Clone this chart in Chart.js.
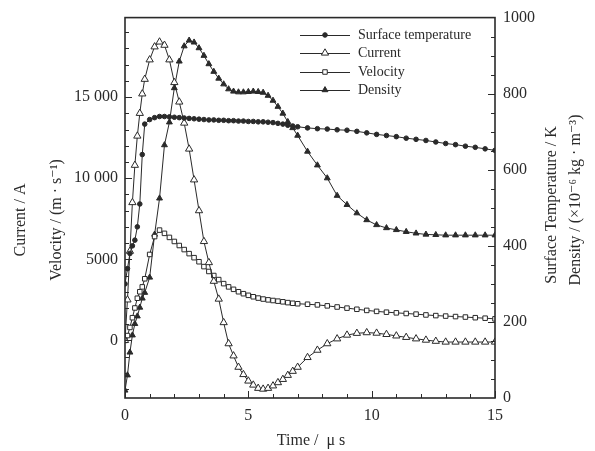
<!DOCTYPE html>
<html>
<head>
<meta charset="utf-8">
<script src="https://cdn.jsdelivr.net/npm/chart.js@4.4.1/dist/chart.umd.min.js"></script>
<style>
  html, body { margin: 0; padding: 0; background: #fff; }
  #wrap { width: 595px; height: 451px; position: relative; }
</style>
</head>
<body>
<div id="wrap"><canvas id="plasma"></canvas></div>
<script>
// Time axis (μs) shared by all four series
const timeUs = [0, 0.1, 0.2, 0.3, 0.4, 0.5, 0.6, 0.7, 0.8, 1.0, 1.2, 1.4, 1.6, 1.8, 2.0, 2.2, 2.4, 2.6, 2.8, 3.0,
    3.2, 3.4, 3.6, 3.8, 4.0, 4.2, 4.4, 4.6, 4.8, 5.0, 5.2, 5.4, 5.6, 5.8, 6.0, 6.2, 6.4, 6.6, 6.8, 7.0,
    7.4, 7.8, 8.2, 8.6, 9.0, 9.4, 9.8, 10.2, 10.6, 11.0, 11.4, 11.8, 12.2, 12.6, 13.0, 13.4, 13.8, 14.2, 14.6, 15.0];

// Surface temperature / K (right axis)
const surfaceTemp = [300, 340, 380, 400, 415, 450, 510, 640, 720, 732, 737, 740, 740, 739, 738, 737, 736, 735, 734, 733,
    732, 731, 731, 730, 730, 729, 729, 728, 728, 727, 727, 726, 726, 725, 724, 722, 720, 717, 715, 713,
    710, 708, 707, 705, 704, 701, 697, 693, 690, 687, 683, 680, 677, 673, 669, 666, 662, 659, 655, 651];

// Current / A (left axis)
const current = [0, 2500, 5500, 8500, 10800, 12600, 14000, 15200, 16100, 17300, 18100, 18400, 18200, 17300, 15900, 14700, 13400, 11800, 9900, 8000,
    6100, 4800, 3650, 2550, 1100, -200, -950, -1650, -2100, -2500, -2750, -2950, -3000, -2950, -2800, -2600, -2400, -2150, -1900, -1650,
    -1050, -600, -200, 100, 330, 440, 480, 450, 370, 280, 190, 100, 20, -50, -100, -100, -100, -100, -100, -100];

// Velocity / (m·s⁻¹) (left axis)
const velocity = [0, 300, 800, 1400, 2000, 2600, 3000, 3300, 3800, 5300, 6400, 6800, 6600, 6350, 6100, 5850, 5600, 5350, 5100, 4850,
    4550, 4250, 4000, 3750, 3500, 3300, 3150, 3000, 2880, 2780, 2690, 2610, 2550, 2500, 2460, 2420, 2380, 2330, 2290, 2260,
    2230, 2190, 2130, 2060, 1990, 1920, 1850, 1790, 1740, 1700, 1660, 1620, 1570, 1530, 1500, 1470, 1440, 1400, 1370, 1330];

// Density / (×10⁻⁶ kg·m⁻³) (right axis)
const density = [20, 60, 120, 165, 195, 215, 238, 262, 277, 317, 430, 525, 665, 725, 815, 885, 925, 940, 935, 920,
    900, 878, 858, 840, 825, 812, 806, 804, 804, 805, 806, 805, 803, 795, 782, 766, 748, 726, 710, 690,
    648, 612, 578, 532, 508, 486, 468, 455, 447, 442, 437, 433, 430, 429, 428, 428, 428, 428, 428, 428];

// Tick labels
const timeTicks = [0, 5, 10, 15];
const leftTicks = [0, 5000, 10000, 15000];
const rightTicks = [0, 200, 400, 600, 800, 1000];

const ink = "#2a2a2a";
const serif = "'Liberation Serif', 'DejaVu Serif', serif";

/**
 * Pairs the shared time array with one series.
 */
function to_points(values) {
    return timeUs.map(function (t, i) {
        return { x: t, y: values[i] };
    });
}

/**
 * Formats numbers the way the figure does: "15 000" but "5000".
 */
function format_value(v) {
    if (Math.abs(v) >= 10000) {
        let s = String(v);
        return s.slice(0, s.length - 3) + " " + s.slice(s.length - 3);
    }
    return String(v);
}

// Draws the frame, the inward tick marks, the axis titles and the legend
const framePlugin = {
    id: "framePlugin",
    afterDatasetsDraw(chart) {
        const ctx = chart.ctx;
        const area = chart.chartArea;
        const xs = chart.scales.x;
        const yl = chart.scales.yL;
        const yr = chart.scales.yR;

        ctx.save();
        ctx.strokeStyle = ink;

        // Minor and major ticks, pointing into the plot
        ctx.lineWidth = 1;
        ctx.beginPath();
        for (let t = 0; t <= 15; t++) {
            const px = Math.round(xs.getPixelForValue(t)) + 0.5;
            const len = (t % 5 === 0) ? 7 : 4;
            ctx.moveTo(px, area.bottom);
            ctx.lineTo(px, area.bottom - len);
        }
        for (let v = -3000; v <= 19000; v += 1000) {
            const py = Math.round(yl.getPixelForValue(v)) + 0.5;
            const len = (v % 5000 === 0) ? 7 : 4;
            ctx.moveTo(area.left, py);
            ctx.lineTo(area.left + len, py);
        }
        for (let v = 50; v < 1000; v += 50) {
            const py = Math.round(yr.getPixelForValue(v)) + 0.5;
            const len = (v % 200 === 0) ? 7 : 4;
            ctx.moveTo(area.right, py);
            ctx.lineTo(area.right - len, py);
        }
        ctx.stroke();

        // Plot frame
        ctx.lineWidth = 1.6;
        ctx.strokeRect(area.left, area.top, area.right - area.left, area.bottom - area.top);

        // Axis titles
        ctx.fillStyle = ink;
        ctx.textAlign = "center";
        ctx.textBaseline = "middle";
        ctx.font = "16px " + serif;
        ctx.fillText("Time /  μ s", 311, 441);

        const rotated = function (text, x, y) {
            ctx.save();
            ctx.translate(x, y);
            ctx.rotate(-Math.PI / 2);
            ctx.fillText(text, 0, 0);
            ctx.restore();
        };
        rotated("Current / A", 21, 220);
        rotated("Velocity / (m · s⁻¹)", 57, 220);
        rotated("Surface Temperature / K", 552, 205);
        rotated("Density / (×10⁻⁶ kg · m⁻³)", 576, 200);

        // Legend
        ctx.font = "14px " + serif;
        ctx.textAlign = "left";
        const rows = [35, 53, 72, 90];
        chart.data.datasets.forEach(function (ds, i) {
            const y = rows[i];
            ctx.lineWidth = 1;
            ctx.strokeStyle = ink;
            ctx.beginPath();
            ctx.moveTo(300, y + 0.5);
            ctx.lineTo(350, y + 0.5);
            ctx.stroke();
            // Marker uses the same fill as the series
            ctx.fillStyle = ds.pointBackgroundColor;
            Chart.helpers.drawPoint(ctx, {
                pointStyle: ds.pointStyle,
                radius: ds.pointRadius,
                borderWidth: 1
            }, 325, y);
            ctx.fillStyle = ink;
            ctx.fillText(ds.label, 358, y);
        });
        ctx.restore();
    }
};

/**
 * Builds one line dataset with the marker style used in the figure.
 */
function make_dataset(label, values, axis, style, radius, fill) {
    return {
        label: label,
        data: to_points(values),
        yAxisID: axis,
        borderColor: ink,
        borderWidth: 1,
        tension: 0,
        pointStyle: style,
        pointRadius: radius,
        pointBorderWidth: 1,
        pointBorderColor: ink,
        pointBackgroundColor: fill,
        backgroundColor: fill
    };
}

new Chart(document.getElementById("plasma"), {
    type: "line",
    data: {
        datasets: [
            make_dataset("Surface temperature", surfaceTemp, "yR", "circle", 2.3, ink),
            make_dataset("Current", current, "yL", "triangle", 4.2, "#fff"),
            make_dataset("Velocity", velocity, "yL", "rect", 3.2, "#fff"),
            make_dataset("Density", density, "yR", "triangle", 3.4, ink)
        ]
    },
    options: {
        responsive: true,
        maintainAspectRatio: false,
        animation: false,
        devicePixelRatio: 1,
        layout: { padding: { top: 16, left: 0, right: 0, bottom: 0 } },
        plugins: {
            legend: { display: false },
            tooltip: { enabled: false }
        },
        scales: {
            x: {
                type: "linear",
                min: 0,
                max: 15,
                grid: { display: false, drawTicks: false },
                border: { display: false },
                afterBuildTicks: function (scale) {
                    scale.ticks = timeTicks.map(function (v) { return { value: v }; });
                },
                afterFit: function (scale) { scale.height = 53; },
                ticks: {
                    padding: 8,
                    color: ink,
                    font: { family: serif, size: 16 },
                    maxRotation: 0
                }
            },
            yL: {
                type: "linear",
                position: "left",
                min: -3550,
                max: 19900,
                grid: { display: false, drawTicks: false },
                border: { display: false },
                afterBuildTicks: function (scale) {
                    scale.ticks = leftTicks.map(function (v) { return { value: v }; });
                },
                afterFit: function (scale) { scale.width = 125; },
                ticks: {
                    padding: 7,
                    color: ink,
                    font: { family: serif, size: 16 },
                    callback: function (v) { return format_value(v); }
                }
            },
            yR: {
                type: "linear",
                position: "right",
                min: 0,
                max: 1000,
                grid: { display: false, drawTicks: false },
                border: { display: false },
                afterBuildTicks: function (scale) {
                    scale.ticks = rightTicks.map(function (v) { return { value: v }; });
                },
                afterFit: function (scale) { scale.width = 100; },
                ticks: {
                    padding: 8,
                    color: ink,
                    font: { family: serif, size: 16 },
                    callback: function (v) { return String(v); }
                }
            }
        }
    },
    plugins: [framePlugin]
});
</script>
</body>
</html>
